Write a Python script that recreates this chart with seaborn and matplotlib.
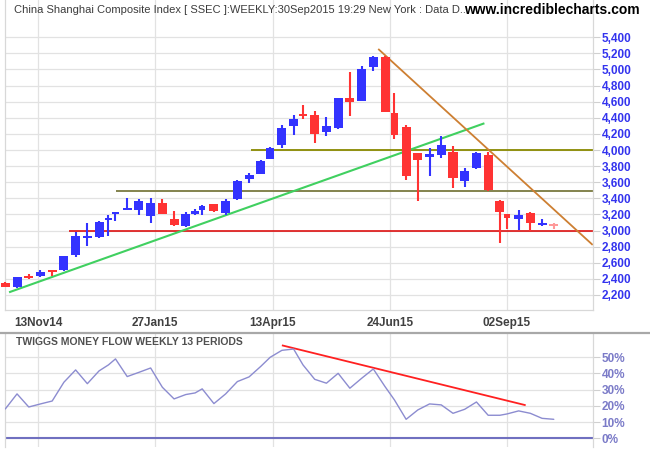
import numpy as np
import pandas as pd
import matplotlib
matplotlib.use("Agg")
import matplotlib.pyplot as plt
import seaborn as sns
from matplotlib import font_manager
from matplotlib.lines import Line2D
from matplotlib.ticker import FuncFormatter

# ---------------- data ----------------
week_days = [5, 5, 5, 5, 5, 5, 5, 5, 5, 4, 3, 5, 5, 5, 5, 5, 5, 4, 3, 5,
             5, 5, 5, 5, 4, 5, 5, 4, 5, 5, 5, 5, 5, 5, 5, 4, 5, 5, 5, 5,
             5, 5, 5, 5, 5, 3, 5, 5, 5, 5]
opens = [2345, 2302, 2420, 2435, 2510, 2510, 2700, 2911, 2924, 3135,
         3209, 3255, 3255, 3181, 3342, 3143, 3056, 3209, 3255, 3330,
         3222, 3392, 3644, 3706, 3892, 4066, 4302, 4435, 4435, 4228,
         4277, 4646, 4613, 5035, 5159, 4460, 4282, 3963, 3917, 3942,
         3976, 3619, 3781, 3934, 3367, 3205, 3147, 3218, 3069, 3073]
highs = [2357, 2420, 2456, 2510, 2510, 2684, 2982, 3097, 3118, 3197,
         3230, 3404, 3392, 3404, 3388, 3246, 3230, 3264, 3317, 3330,
         3392, 3627, 3718, 3870, 4037, 4314, 4435, 4563, 4488, 4410,
         4646, 4969, 5044, 5171, 5168, 4712, 4307, 3963, 4025, 4174,
         4050, 3777, 3976, 3979, 3379, 3205, 3255, 3230, 3143, 3097]
lows = [2295, 2290, 2398, 2423, 2435, 2500, 2675, 2808, 2903, 2932,
        3122, 3255, 3197, 3097, 3209, 3056, 3044, 3197, 3193, 3234,
        3189, 3379, 3594, 3700, 3890, 4029, 4190, 4385, 4091, 4174,
        4257, 4423, 4609, 4985, 4476, 4141, 3628, 3371, 3681, 3905,
        3532, 3545, 3768, 3491, 2849, 3023, 3011, 2994, 3056, 3023]
closes = [2302, 2420, 2412, 2481, 2489, 2684, 2932, 2928, 3106, 3152,
          3230, 3276, 3367, 3338, 3209, 3069, 3205, 3243, 3301, 3247,
          3367, 3615, 3694, 3864, 4025, 4274, 4385, 4419, 4203, 4298,
          4646, 4600, 5006, 5159, 4476, 4190, 3681, 3880, 3947, 4063,
          3656, 3734, 3963, 3503, 3234, 3160, 3189, 3098, 3090, 3060]
money_flow = [18.1, 27.4, 19.3, 21.2, 23.0, 34.6, 42.2, 33.7, 41.6, 45.3,
              49.0, 38.1, 40.7, 43.4, 31.5, 24.3, 27.0, 28.0, 30.5, 21.4,
              27.4, 35.0, 37.9, 44.4, 50.0, 54.3, 55.1, 45.3, 36.4, 34.0,
              40.1, 30.9, 37.0, 42.8, 31.9, 23.7, 11.7, 17.5, 21.2, 20.6,
              15.4, 17.9, 22.4, 14.2, 14.2, 15.0, 16.9, 15.4, 12.3, 11.7]

tick_days = [19, 69, 119, 169, 219]
tick_labels = ["13Nov14", "27Jan15", "13Apr15", "24Jun15", "02Sep15"]
price_ticks = list(range(2200, 5401, 200))
flow_ticks = [0, 10, 20, 30, 40, 50]

# trend / support lines: (x0, y0, x1, y1) in trading-day units and price
green_trend = (6.6, 2233, 209.4, 4332)
brown_trend = (164.1, 5255, 255.6, 2821)
support_3000 = (32.2, 3000, 255.6, 3000)
support_3490 = (52.2, 3490, 255.6, 3490)
resist_4000 = (109.8, 4000, 255.6, 4000)
flow_trend = (123.0, 57.4, 227.0, 20.4)

title_text = "China Shanghai Composite Index [ SSEC ]:WEEKLY:30Sep2015 19:29 New York : Data D.."
site_text = "www.incrediblecharts.com"
flow_title = "TWIGGS MONEY FLOW WEEKLY 13 PERIODS"

# ---------------- style ----------------
sns.set_theme(style="white")
names = {f.name for f in font_manager.fontManager.ttflist}
narrow = "Liberation Sans Narrow" if "Liberation Sans Narrow" in names else "Liberation Sans"
plt.rcParams["font.family"] = [narrow, "DejaVu Sans"]

df = pd.DataFrame({"open": opens, "high": highs, "low": lows, "close": closes,
                   "flow": money_flow, "days": week_days})
df["x"] = np.cumsum(df["days"])

W, H = 650, 450
fig = plt.figure(figsize=(W / 100, H / 100), dpi=100)
fig.patch.set_facecolor("white")

ax1 = fig.add_axes([4.7 / W, (H - 310) / H, 588 / W, 310 / H])
ax2 = fig.add_axes([4.7 / W, 3 / H, 588 / W, 114 / H])

grid_c = "#e2e2e2"
for ax in (ax1, ax2):
    ax.set_facecolor("white")
    ax.set_xlim(4.74, 255.6)
    ax.set_xticks(tick_days)
    ax.grid(True, color=grid_c, lw=0.9)
    ax.set_axisbelow(True)
    ax.yaxis.tick_right()
    ax.tick_params(axis="y", which="both", right=True, left=False, length=5,
                   width=0.8, color="#d0d0d0", pad=1.5)
    ax.tick_params(axis="x", length=0, pad=5)
    for s in ax.spines.values():
        s.set_color("#d8d8d8")
        s.set_linewidth(0.9)
    ax.spines["top"].set_visible(False)

# ---------------- upper panel ----------------
ax1.set_ylim(2013, 5863)
ax1.set_yticks(price_ticks)
ax1.yaxis.set_major_formatter(FuncFormatter(lambda v, p: f"{int(v):,}"))
for lab in ax1.get_yticklabels():
    lab.set_color("#3333ee")
    lab.set_fontweight("bold")
    lab.set_fontsize(8.5)
ax1.set_xticklabels(tick_labels, color="#404040", fontweight="bold", fontsize=8.5)

min_h = 25
for i, r in df.iterrows():
    if i == len(df) - 1:
        col = "#ff9999"
    elif r["close"] >= r["open"]:
        col = "#3333ff"
    else:
        col = "#ff3333"
    w = 0.55 * r["days"] + 1.1
    ax1.vlines(r["x"], r["low"], r["high"], color=col, lw=1.5, zorder=3, clip_on=False)
    lo = min(r["open"], r["close"])
    hgt = max(abs(r["close"] - r["open"]), min_h)
    ax1.bar(r["x"], hgt, bottom=lo, width=w, color=col, lw=0, zorder=3, clip_on=False)

def seg(ax, s, color, lw):
    ax.plot([s[0], s[2]], [s[1], s[3]], color=color, lw=lw, zorder=2, solid_capstyle="butt")

seg(ax1, support_3000, "#dd1111", 1.2)
seg(ax1, support_3490, "#7a7a40", 1.3)
seg(ax1, resist_4000, "#8a8a00", 1.3)
seg(ax1, green_trend, "#40d060", 1.5)
seg(ax1, brown_trend, "#cd7f32", 1.3)

# ---------------- lower panel ----------------
ax2.set_ylim(-5.4, 65)
ax2.set_yticks(flow_ticks)
ax2.yaxis.set_major_formatter(FuncFormatter(lambda v, p: f"{int(v)}%"))
for lab in ax2.get_yticklabels():
    lab.set_color("#7b7bc8")
    lab.set_fontweight("bold")
    lab.set_fontsize(8.5)
ax2.set_xticklabels([])
ax2.spines["bottom"].set_visible(False)
ax2.axhline(0, color="#7070c0", lw=1.5, zorder=2)
sns.lineplot(data=df, x="x", y="flow", ax=ax2, color="#8c8cd0", lw=1.0, zorder=3)
ax2.set_xlabel("")
ax2.set_ylabel("")
seg(ax2, flow_trend, "#ff2020", 1.3)
ax2.text(11 / 588, 0.92, flow_title, transform=ax2.transAxes, color="#505050",
         fontweight="bold", fontsize=7.5, ha="left", va="center")

# panel separator
fig.add_artist(Line2D([0, 1], [(H - 333) / H] * 2, transform=fig.transFigure,
                      color="#a8a8a8", lw=1.6))

# titles
fig.text(14 / W, 1 - 10 / H, title_text, color="#3c3c3c", fontsize=8,
         ha="left", va="center")
fig.text(640 / W, 1 - 10 / H, site_text, color="black", fontsize=10,
         fontweight="bold", ha="right", va="center")

fig.savefig("out.png", dpi=100, facecolor="white")
